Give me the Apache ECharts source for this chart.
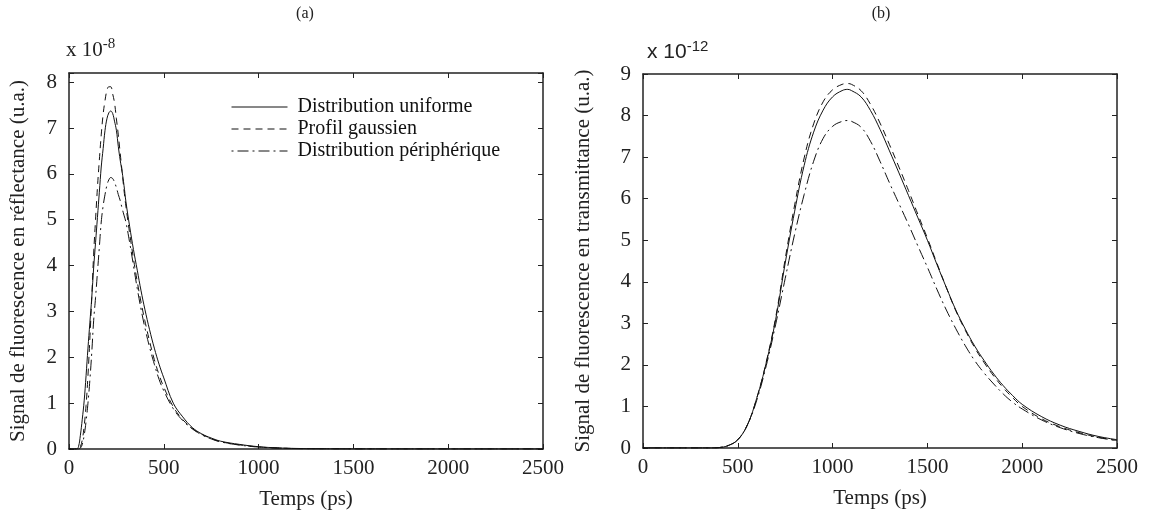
<!DOCTYPE html>
<html>
<head>
<meta charset="utf-8">
<script src="https://cdn.jsdelivr.net/npm/echarts@6/dist/echarts.min.js"></script>
<style>
  html, body { margin: 0; padding: 0; background: #fff; }
  #canva { width: 1152px; height: 520px; }
</style>
</head>
<body>
<div id="canva"></div>
<script>
// ========== Data ==========
// (a) reflectance, unit 1e-8
const timeA = [0, 40, 50, 60, 70, 80, 90, 100, 110, 120, 130, 140, 150, 160, 170, 180, 190, 200, 210, 220, 230, 240, 250, 260, 270, 280, 290, 300, 320, 340, 360, 380, 400, 425, 450, 475, 500, 550, 600, 650, 700, 750, 800, 900, 1000, 1100, 1200, 1400, 1600, 2000, 2500];
const uniformA = [0, 0, 0.05, 0.3, 0.65, 1.05, 1.6, 2.2, 2.75, 3.3, 3.95, 4.5, 5.05, 5.6, 6.15, 6.55, 6.95, 7.2, 7.33, 7.37, 7.32, 7.15, 6.95, 6.6, 6.3, 6.05, 5.75, 5.4, 4.85, 4.35, 3.9, 3.45, 3.05, 2.6, 2.2, 1.85, 1.55, 1.0, 0.7, 0.47, 0.33, 0.24, 0.17, 0.1, 0.05, 0.025, 0.012, 0.003, 0.001, 0, 0];
const gaussA = [0, 0, 0, 0.05, 0.2, 0.5, 0.95, 1.6, 2.4, 3.3, 4.25, 5.0, 5.7, 6.3, 6.85, 7.3, 7.6, 7.82, 7.9, 7.9, 7.75, 7.55, 7.2, 6.85, 6.45, 6.05, 5.65, 5.3, 4.7, 4.15, 3.65, 3.2, 2.8, 2.35, 1.95, 1.62, 1.35, 0.92, 0.64, 0.45, 0.32, 0.23, 0.16, 0.09, 0.045, 0.022, 0.01, 0.003, 0.001, 0, 0];
const periphA = [0, 0, 0, 0.02, 0.1, 0.3, 0.6, 1.0, 1.5, 2.1, 2.8, 3.3, 3.85, 4.4, 4.95, 5.3, 5.55, 5.75, 5.87, 5.92, 5.9, 5.82, 5.7, 5.55, 5.42, 5.25, 5.1, 4.95, 4.5, 4.0, 3.5, 3.05, 2.65, 2.22, 1.85, 1.52, 1.27, 0.88, 0.62, 0.44, 0.31, 0.22, 0.155, 0.085, 0.042, 0.02, 0.01, 0.003, 0.001, 0, 0];

// (b) transmittance, unit 1e-12
const timeB = [0, 350, 400, 450, 500, 550, 600, 650, 700, 750, 800, 850, 900, 950, 1000, 1050, 1080, 1100, 1150, 1200, 1250, 1300, 1350, 1400, 1450, 1500, 1550, 1600, 1650, 1700, 1750, 1800, 1850, 1900, 1950, 2000, 2100, 2200, 2300, 2400, 2500];
const uniformB = [0, 0, 0.01, 0.06, 0.2, 0.55, 1.2, 2.05, 3.1, 4.45, 5.7, 6.8, 7.6, 8.13, 8.45, 8.6, 8.63, 8.6, 8.45, 8.12, 7.67, 7.15, 6.62, 6.08, 5.54, 5.0, 4.42, 3.86, 3.32, 2.86, 2.45, 2.1, 1.78, 1.5, 1.26, 1.05, 0.76, 0.55, 0.4, 0.28, 0.2];
const gaussB = [0, 0, 0.01, 0.06, 0.2, 0.55, 1.2, 2.07, 3.15, 4.55, 5.85, 6.98, 7.8, 8.33, 8.62, 8.75, 8.77, 8.75, 8.6, 8.27, 7.82, 7.3, 6.76, 6.2, 5.62, 5.05, 4.45, 3.86, 3.3, 2.83, 2.41, 2.05, 1.73, 1.45, 1.21, 1.0, 0.71, 0.51, 0.37, 0.26, 0.18];
const periphB = [0, 0, 0.01, 0.06, 0.2, 0.55, 1.15, 1.98, 2.98, 4.08, 5.15, 6.1, 6.9, 7.45, 7.74, 7.86, 7.88, 7.86, 7.72, 7.38, 6.9, 6.38, 5.88, 5.38, 4.86, 4.35, 3.82, 3.32, 2.87, 2.46, 2.1, 1.8, 1.54, 1.3, 1.1, 0.94, 0.68, 0.49, 0.35, 0.25, 0.18];

const seriesNames = ['Distribution uniforme', 'Profil gaussien', 'Distribution périphérique'];
const xTickStep = 500;

const serif = "'Liberation Serif', 'Times New Roman', serif";
const sans = "'Liberation Sans', Arial, sans-serif";

// ========== Helpers ==========
function pairs(t, v) {
    return t.map((x, i) => [x, v[i]]);
}

// dash patterns: solid, dashed, dash-dot
const dashes = ['solid', [7, 5], [2, 4, 11, 4]];

function makeSeries(t, arrs, axisIdx) {
    return arrs.map((v, i) => ({
        name: seriesNames[i],
        type: 'line',
        xAxisIndex: axisIdx,
        yAxisIndex: axisIdx,
        data: pairs(t, v),
        symbol: 'none',
        smooth: 0.4,
        lineStyle: { color: '#111', width: 1, type: dashes[i] },
        itemStyle: { color: '#111' },
        emphasis: { disabled: true },
        z: 3
    }));
}

function xAx(grid, bottom) {
    return {
        gridIndex: grid,
        type: 'value',
        position: bottom ? 'bottom' : 'top',
        min: 0, max: 2500, interval: xTickStep,
        name: bottom ? 'Temps (ps)' : '',
        nameLocation: 'middle',
        nameGap: 40,
        nameTextStyle: { fontFamily: serif, fontSize: 21, color: '#222' },
        axisLine: { onZero: false, lineStyle: { color: '#222', width: 1.5 } },
        axisTick: { inside: true, length: 5, lineStyle: { color: '#222' } },
        axisLabel: {
            show: bottom, fontFamily: serif, fontSize: 21, color: '#222', margin: 9,
            formatter: v => String(v)
        },
        splitLine: { show: false }
    };
}

function yAx(grid, left, max, name, gap) {
    return {
        gridIndex: grid,
        type: 'value',
        position: left ? 'left' : 'right',
        min: 0, max: max, interval: 1,
        name: left ? name : '',
        nameLocation: 'middle',
        nameGap: gap || 40,
        nameTextStyle: { fontFamily: serif, fontSize: 21, color: '#222' },
        axisLine: { onZero: false, lineStyle: { color: '#222', width: 1.5 } },
        axisTick: { inside: true, length: 5, lineStyle: { color: '#222' } },
        axisLabel: {
            show: left, fontFamily: serif, fontSize: 21, color: '#222', margin: 12,
            formatter: v => (Number.isInteger(v) ? String(v) : '')
        },
        splitLine: { show: false }
    };
}

// ========== Chart ==========
var chartDom = document.getElementById('canva');
var myChart = echarts.init(chartDom, null, { renderer: 'canvas' });
var option = {
    animation: false,
    backgroundColor: '#fff',
    grid: [
        { left: 69, top: 73, width: 474, height: 376 },
        { left: 643, top: 74, width: 474, height: 374 }
    ],
    xAxis: [xAx(0, true), xAx(0, false), xAx(1, true), xAx(1, false)],
    yAxis: [
        yAx(0, true, 8.2, 'Signal de fluorescence en réflectance (u.a.)', 40),
        yAx(0, false, 8.2),
        yAx(1, true, 9, 'Signal de fluorescence en transmittance (u.a.)', 49),
        yAx(1, false, 9)
    ],
    legend: {
        data: seriesNames,
        orient: 'vertical',
        left: 226,
        top: 92,
        itemWidth: 56,
        itemHeight: 14,
        itemGap: 2,
        selectedMode: false,
        itemStyle: { color: 'rgba(0,0,0,0)', borderColor: 'rgba(0,0,0,0)', borderWidth: 0 },
        lineStyle: { color: '#111', width: 1 },
        textStyle: { fontFamily: serif, fontSize: 20, color: '#111', padding: [0, 0, 0, 5] }
    },
    graphic: [
        { type: 'text', x: 305, y: 14, style: { text: '(a)', font: '16px ' + serif, fill: '#222', align: 'center', verticalAlign: 'middle' } },
        { type: 'text', x: 881, y: 14, style: { text: '(b)', font: '16px ' + serif, fill: '#222', align: 'center', verticalAlign: 'middle' } },
        {
            type: 'text', x: 66, y: 37,
            style: {
                text: '{a|x 10}{b|-8}',
                rich: {
                    a: { fontFamily: serif, fontSize: 21, lineHeight: 24, fill: '#222', verticalAlign: 'bottom' },
                    b: { fontFamily: serif, fontSize: 15, lineHeight: 14, fill: '#222', verticalAlign: 'top' }
                }
            }
        },
        {
            type: 'text', x: 647, y: 39,
            style: {
                text: '{a|x 10}{b|-12}',
                rich: {
                    a: { fontFamily: sans, fontSize: 21, lineHeight: 24, fill: '#222', verticalAlign: 'bottom' },
                    b: { fontFamily: sans, fontSize: 15, lineHeight: 14, fill: '#222', verticalAlign: 'top' }
                }
            }
        }
    ],
    series: makeSeries(timeA, [uniformA, gaussA, periphA], 0)
        .concat(makeSeries(timeB, [uniformB, gaussB, periphB], 2))
};
option && myChart.setOption(option);
</script>
</body>
</html>
